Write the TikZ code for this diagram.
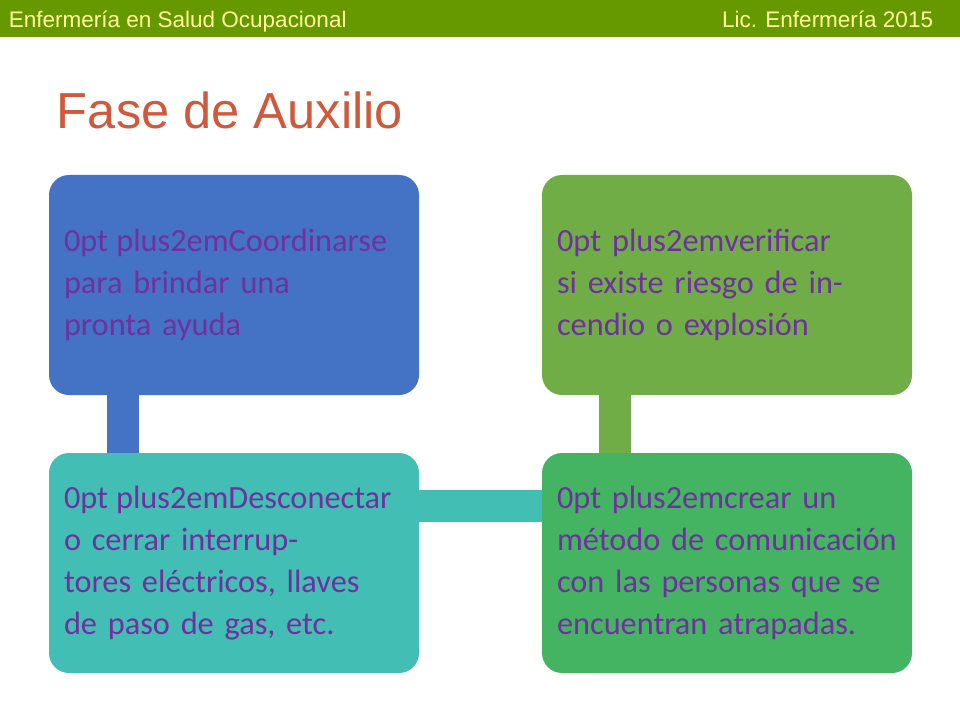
\documentclass[tikz,border=0pt]{standalone}
\usepackage{fontspec}
\setmainfont{Carlito}
\newfontfamily\headfont{Liberation Sans}
\definecolor{barcol}{RGB}{102,153,0}
\definecolor{headcol}{RGB}{255,255,153}
\definecolor{titlecol}{RGB}{208,88,60}
\definecolor{txtcol}{RGB}{112,48,160}
\definecolor{boxblue}{RGB}{68,114,196}
\definecolor{boxteal}{RGB}{67,190,180}
\definecolor{boxgreen}{RGB}{69,180,98}
\definecolor{boxlime}{RGB}{112,173,71}
\begin{document}
\begin{tikzpicture}
  % styles
  \tikzset{stepbox/.style={rounded corners=0.5cm,minimum width=9.25cm,minimum height=5.5cm,
      text width=8.5cm,align=center,text=txtcol,font=\fontsize{23}{30}\selectfont\hyphenpenalty=10000,inner sep=0pt},
    conn/.style={line width=0.8cm}}
  \useasboundingbox (0,0) rectangle (24,18);
  \fill[barcol] (0,17.075) rectangle (24,18);
  \node[anchor=base west,text=headcol,font=\headfont\fontsize{16}{18}\selectfont] (lefthead) at (0.1,17.3) {Enfermería en Salud Ocupacional};
  \node[anchor=base east,text=headcol,font=\headfont\fontsize{16}{18}\selectfont] (righthead) at (23.45,17.3) {Lic. Enfermería 2015};
  \node[anchor=west,text=titlecol,font=\headfont\fontsize{36}{40}\selectfont] (title) at (1.3,15.25) {Fase de Auxilio};

  % nodes
  \node[stepbox,fill=boxblue] (ayuda) at (5.85,10.875) {Coordinarse para brindar una pronta ayuda};
  \node[stepbox,fill=boxteal] (desconectar) at (5.85,3.925) {Desconectar o cerrar interruptores eléctricos, llaves de paso de gas, etc.};
  \node[stepbox,fill=boxgreen] (comunicacion) at (18.175,3.925) {crear un método de comunicación con las personas que se encuentran atrapadas.};
  \node[stepbox,fill=boxlime] (verificar) at (18.175,10.875) {verificar si existe riesgo de incendio o explosión};

  % edges
  \draw[conn,boxblue] ([xshift=-2.775cm]ayuda.south) -- ([xshift=-2.775cm]desconectar.north);
  \draw[conn,boxteal] ([yshift=1.425cm]desconectar.east) -- ([yshift=1.425cm]comunicacion.west);
  \draw[conn,boxlime] ([xshift=-2.79cm]comunicacion.north) -- ([xshift=-2.79cm]verificar.south);
\end{tikzpicture}
\end{document}
